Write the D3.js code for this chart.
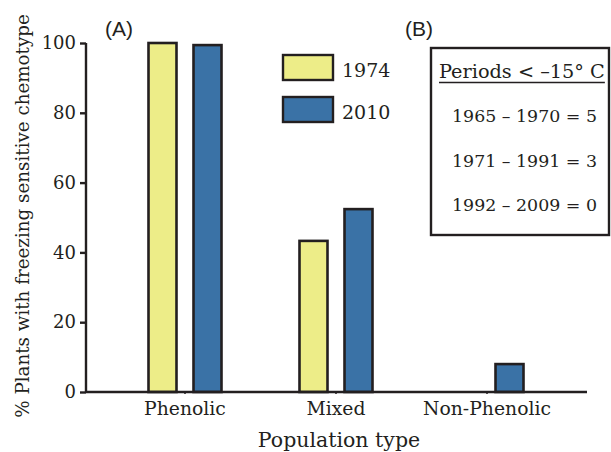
<!DOCTYPE html>
<html><head><meta charset="utf-8">
<script src="https://cdn.jsdelivr.net/npm/d3@7"></script>
<style>body{margin:0;background:#fff}svg{display:block}</style>
</head><body>
<script>
const categories = ["Phenolic", "Mixed", "Non-Phenolic"];
const seriesNames = ["1974", "2010"];
const values1974 = [100, 43.3, null];
const values2010 = [99.4, 52.4, 8];
const yTicks = [0, 20, 40, 60, 80, 100];
const periodTitle = "Periods < \u201315\u00b0 C";
const periodRows = ["1965 \u2013 1970 = 5", "1971 \u2013 1991 = 3", "1992 \u2013 2009 = 0"];
const colors = ["#eded88", "#3a72a6"];

const W = 611, H = 452;
const serif = "'DejaVu Serif', serif";
const sans = "'Liberation Sans', Arial, sans-serif";
const ink = "#231f20";

const svg = d3.select("body").append("svg").attr("width", W).attr("height", H);

const y = d3.scaleLinear().domain([0, 100]).range([392, 43]);
const x0 = d3.scaleBand().domain(categories).range([109.5, 562.5]).paddingInner(0).paddingOuter(0);
const x1 = d3.scaleBand().domain(seriesNames).range([-36.5, 36.5]).paddingInner(0.378).paddingOuter(0);

const data = categories.map((c, i) => ({cat: c, vals: [values1974[i], values2010[i]]}));

// bars
const g = svg.append("g");
data.forEach(d => {
  d.vals.forEach((v, j) => {
    if (v == null) return;
    const cx = x0(d.cat) + x0.bandwidth() / 2;
    g.append("rect")
      .attr("x", cx + x1(seriesNames[j]))
      .attr("y", y(v))
      .attr("width", x1.bandwidth())
      .attr("height", y(0) - y(v))
      .attr("fill", colors[j])
      .attr("stroke", ink)
      .attr("stroke-width", 2.6);
  });
});

// y axis
const yAxis = svg.append("g").attr("transform", "translate(86,0)")
  .call(d3.axisLeft(y).tickValues(yTicks).tickSize(6).tickPadding(4));
yAxis.select(".domain").attr("stroke", ink).attr("stroke-width", 2.4).attr("d", `M0,${y(100)}V${y(0)}`);
yAxis.selectAll(".tick line").attr("stroke", ink).attr("stroke-width", 2.4);
yAxis.selectAll(".tick text").attr("font-family", serif).attr("font-size", 18).attr("fill", ink);

// x axis
const xAxis = svg.append("g").attr("transform", `translate(0,${y(0)})`)
  .call(d3.axisBottom(x0).tickSize(2).tickPadding(8));
xAxis.select(".domain").attr("stroke", ink).attr("stroke-width", 2.6).attr("d", `M86,0H587`);
xAxis.selectAll(".tick line").attr("stroke", ink).attr("stroke-width", 1.5);
xAxis.selectAll(".tick text").attr("font-family", serif).attr("font-size", 18.8).attr("fill", ink);

// axis titles
svg.append("text").attr("x", 339).attr("y", 447).attr("text-anchor", "middle")
  .attr("font-family", serif).attr("font-size", 20.5).attr("fill", ink).text("Population type");
svg.append("text").attr("transform", "translate(29,216) rotate(-90)").attr("text-anchor", "middle")
  .attr("font-family", serif).attr("font-size", 18.3).attr("fill", ink)
  .text("% Plants with freezing sensitive chemotype");

// panel labels
svg.append("text").attr("x", 105).attr("y", 36).attr("font-family", sans).attr("font-size", 21).attr("fill", ink).text("(A)");
svg.append("text").attr("x", 405).attr("y", 36).attr("font-family", sans).attr("font-size", 21).attr("fill", ink).text("(B)");

// legend
seriesNames.forEach((s, i) => {
  const ly = 55 + i * 42;
  svg.append("rect").attr("x", 283).attr("y", ly).attr("width", 50).attr("height", 25)
    .attr("fill", colors[i]).attr("stroke", ink).attr("stroke-width", 2.4);
  svg.append("text").attr("x", 342).attr("y", ly + 22).attr("font-family", serif)
    .attr("font-size", 19).attr("fill", ink).text(s);
});

// info box
svg.append("rect").attr("x", 431).attr("y", 48).attr("width", 178).attr("height", 187)
  .attr("fill", "none").attr("stroke", ink).attr("stroke-width", 2.4);
const title = svg.append("text").attr("x", 439).attr("y", 78).attr("font-family", serif)
  .attr("font-size", 19.3).attr("fill", ink).text(periodTitle);
const tw = title.node().getComputedTextLength();
svg.append("line").attr("x1", 439).attr("x2", 439 + tw).attr("y1", 82.5).attr("y2", 82.5)
  .attr("stroke", ink).attr("stroke-width", 1.4);
periodRows.forEach((r, i) => {
  svg.append("text").attr("x", 452).attr("y", 122 + i * 44.5).attr("font-family", serif)
    .attr("font-size", 17.4).attr("fill", ink).text(r);
});
</script>
</body></html>
